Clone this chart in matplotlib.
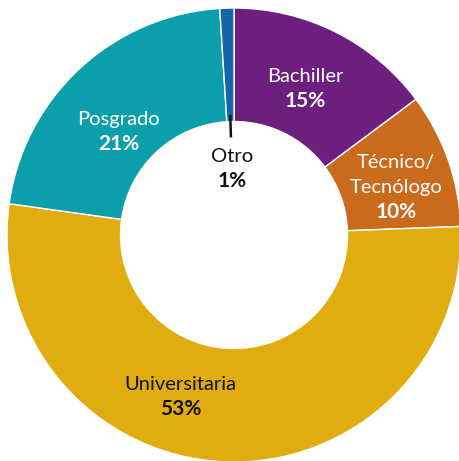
import matplotlib
matplotlib.use("Agg")
import matplotlib.pyplot as plt
import numpy as np

categories = ["Bachiller", "Técnico/\nTecnólogo", "Universitaria", "Posgrado", "Otro"]
values = [14.8, 9.6, 52.8, 21.8, 1.0]
pct_labels = ["15%", "10%", "53%", "21%", "1%"]
colors = ["#6C1F7D", "#CA6A1C", "#E1AC10", "#0B9FAB", "#1366A8"]
text_colors = ["white", "white", "#111111", "white", "#111111"]

plt.rcParams['font.family'] = ['Lato', 'DejaVu Sans']

W, H = 460, 461
fig = plt.figure(figsize=(W / 100, H / 100), dpi=100)
ax = fig.add_axes([0, 0, 1, 1])

cx, cy, R = 234, 235, 227

inner = 0.50
wedges, _ = ax.pie(values, colors=colors, startangle=90, counterclock=False,
                   radius=1.0, wedgeprops=dict(width=1 - inner, edgecolor='white', linewidth=1.0))
ax.set_aspect('auto')
ax.set_xlim(-cx / R, (W - cx) / R)
ax.set_ylim(-(H - cy) / R, cy / R)
ax.axis('off')

# baseline position (data units) of the last line of each name
label_pos = [(0.313, 0.674), (0.714, 0.185), (-0.236, -0.683), (-0.507, 0.485), (-0.009, 0.322)]
line_step = 0.110
pct_step = 0.112
for i, (name, pct) in enumerate(zip(categories, pct_labels)):
    x, y = label_pos[i]
    lines = name.split("\n")
    for k, line in enumerate(lines):
        yy = y + line_step * (len(lines) - 1 - k)
        ax.text(x, yy, line, ha='center', va='baseline', fontsize=14.5, color=text_colors[i])
    ax.text(x, y - pct_step, pct, ha='center', va='baseline', fontsize=15, fontweight='bold',
            color=text_colors[i])

# leader line for Otro
w = wedges[-1]
theta = np.deg2rad((w.theta1 + w.theta2) / 2)
rr = np.array([inner + 0.03, inner - 0.07])
ax.plot(np.cos(theta) * rr, np.sin(theta) * rr, color='#111111', linewidth=1.8,
        solid_capstyle='butt')

fig.savefig("out.png", dpi=100)
